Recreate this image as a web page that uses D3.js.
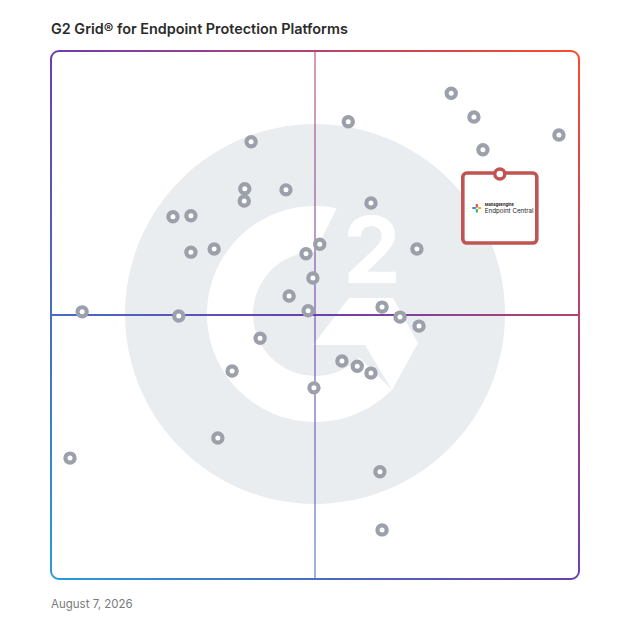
<!DOCTYPE html>
<html>
<head>
<meta charset="utf-8">
<script src="https://cdn.jsdelivr.net/npm/d3@7"></script>
<style>
  body { margin: 0; background: #fff; }
  svg { display: block; }
</style>
</head>
<body>
<div id="chart"></div>
<script>
// market presence (x) and satisfaction (y), 0-100, one entry per vendor dot
const marketPresence = [75.8, 80.1, 96.2, 81.8, 56.3, 37.9, 36.7, 36.6, 44.5, 23.1,
  26.5, 60.6, 26.5, 30.9, 48.3, 50.9, 69.3, 49.6, 45.1, 5.9,
  24.2, 48.7, 62.7, 66.1, 69.7, 39.6, 34.3, 55.1, 58.0, 60.6,
  49.8, 31.6, 3.6, 62.3, 62.7];
const satisfaction = [92.0, 87.5, 84.1, 81.3, 86.6, 82.8, 73.9, 71.6, 73.7, 68.6,
  68.8, 71.2, 61.9, 62.5, 61.6, 63.4, 62.5, 57.0, 53.6, 50.6,
  49.8, 50.8, 51.5, 49.6, 47.9, 45.6, 39.4, 41.3, 40.3, 39.0,
  36.2, 26.7, 22.9, 20.3, 9.3];

const featured = { vendor: 'ManageEngine', product: 'Endpoint Central', x: 85.0, y: 76.7 };
const title = 'G2 Grid® for Endpoint Protection Platforms';
const dateLabel = 'August 7, 2026';

const width = 628;
const height = 628;
const margin = { top: 51, right: 49, bottom: 49, left: 51 };

const svg = d3.select('#chart')
  .append('svg')
  .attr('width', width)
  .attr('height', height)
  .attr('viewBox', [0, 0, width, height]);

const x = d3.scaleLinear()
  .domain([0, 100])
  .range([margin.left, width - margin.right]);

const y = d3.scaleLinear()
  .domain([0, 100])
  .range([height - margin.bottom, margin.top]);

const cx = x(50), cy = y(50);

// frame gradient: red top-right -> purple -> blue bottom-left
const defs = svg.append('defs');
const grad = defs.append('linearGradient')
  .attr('id', 'edge')
  .attr('gradientUnits', 'userSpaceOnUse')
  .attr('x1', x(100)).attr('y1', y(100))
  .attr('x2', x(0)).attr('y2', y(0));
grad.append('stop').attr('offset', 0).attr('stop-color', '#ff4a2a');
grad.append('stop').attr('offset', 0.5).attr('stop-color', '#6a3eb0');
grad.append('stop').attr('offset', 1).attr('stop-color', '#2a9ad8');

// G2 watermark
const logo = svg.append('g');
logo.append('circle')
  .attr('cx', cx).attr('cy', cy - 1)
  .attr('r', 190)
  .attr('fill', '#eaedf0');

const ro = 108, ri = 62;
const pt = (r, deg) => [cx + r * Math.cos(deg * Math.PI / 180), cy - 1 + r * Math.sin(deg * Math.PI / 180)];
const a0 = pt(ro, -78.4), a1 = pt(ro, 44.6), b1 = pt(ri, 44.6), b0 = pt(ri, -90);
logo.append('path')
  .attr('fill', '#fff')
  .attr('d', `M${a0}A${ro},${ro} 0 1 0 ${a1}L${b1}A${ri},${ri} 0 1 1 ${b0}Z`);

logo.append('path')
  .attr('fill', '#fff')
  .attr('d', d3.line()([
    [cx + 34, cy - 17], [cx + 78, cy - 17], [cx + 103, cy + 28],
    [cx + 77, cy + 75], [cx + 50, cy + 30], [cx - 2, cy + 30]
  ]) + 'Z');

logo.append('text')
  .attr('x', cx + 57).attr('y', cy - 32)
  .attr('text-anchor', 'middle')
  .attr('font-family', 'Inter, "DejaVu Sans", sans-serif')
  .attr('font-weight', 700)
  .attr('font-size', 92)
  .attr('fill', '#fff')
  .text('2');

// quadrant lines
svg.append('line')
  .attr('x1', x(0)).attr('x2', x(100))
  .attr('y1', cy).attr('y2', cy)
  .attr('stroke', 'url(#edge)')
  .attr('stroke-width', 1.8);
svg.append('line')
  .attr('x1', cx).attr('x2', cx)
  .attr('y1', y(100)).attr('y2', y(0))
  .attr('stroke', 'url(#edge)')
  .attr('stroke-width', 1.5)
  .attr('opacity', 0.7);

// frame
svg.append('rect')
  .attr('x', x(0)).attr('y', y(100))
  .attr('width', x(100) - x(0))
  .attr('height', y(0) - y(100))
  .attr('rx', 8)
  .attr('fill', 'none')
  .attr('stroke', 'url(#edge)')
  .attr('stroke-width', 2);

// vendor dots
svg.append('g')
  .selectAll('circle')
  .data(d3.range(marketPresence.length))
  .join('circle')
    .attr('cx', i => x(marketPresence[i]))
    .attr('cy', i => y(satisfaction[i]))
    .attr('r', 4.6)
    .attr('fill', '#fff')
    .attr('stroke', '#9ba0ab')
    .attr('stroke-width', 4.2);

// featured product card
const fx = x(featured.x), fy = y(featured.y);
const card = svg.append('g');
card.append('rect')
  .attr('x', fx - 37).attr('y', fy - 1)
  .attr('width', 74).attr('height', 70)
  .attr('rx', 4)
  .attr('fill', '#fff')
  .attr('stroke', '#c05452')
  .attr('stroke-width', 3.6);
card.append('circle')
  .attr('cx', fx).attr('cy', fy)
  .attr('r', 5)
  .attr('fill', '#fff')
  .attr('stroke', '#c05452')
  .attr('stroke-width', 3.4);

// tiny product logo: four coloured strokes + wordmark
const ix = fx - 23, iy = fy + 34;
[['#e8423f', -1, -4, 2, 3.5], ['#f3b51c', 1, -1, 3.5, 2], ['#2b8fd6', -4.5, -1, 3.5, 2], ['#2db36b', -1, 1, 2, 3.5]]
  .forEach(([c, dx, dy, w, h]) => card.append('rect')
    .attr('x', ix + dx).attr('y', iy + dy).attr('width', w).attr('height', h).attr('fill', c));
card.append('text')
  .attr('x', fx - 15).attr('y', fy + 31.5)
  .attr('font-family', 'Inter, sans-serif')
  .attr('font-weight', 700)
  .attr('font-size', 4)
  .attr('fill', '#222')
  .text(featured.vendor);
card.append('text')
  .attr('x', fx - 15).attr('y', fy + 38.5)
  .attr('font-family', 'Inter, sans-serif')
  .attr('font-size', 6.2)
  .attr('fill', '#222')
  .text(featured.product);

// title and date
svg.append('text')
  .attr('x', margin.left).attr('y', 34)
  .attr('font-family', 'Inter, "Open Sans", sans-serif')
  .attr('font-weight', 600)
  .attr('font-size', 14.4)
  .attr('fill', '#2b2b2b')
  .text(title);

svg.append('text')
  .attr('x', margin.left).attr('y', 608)
  .attr('font-family', 'Inter, "Open Sans", sans-serif')
  .attr('font-size', 11.5)
  .attr('fill', '#7a7a7a')
  .text(dateLabel);
</script>
</body>
</html>
